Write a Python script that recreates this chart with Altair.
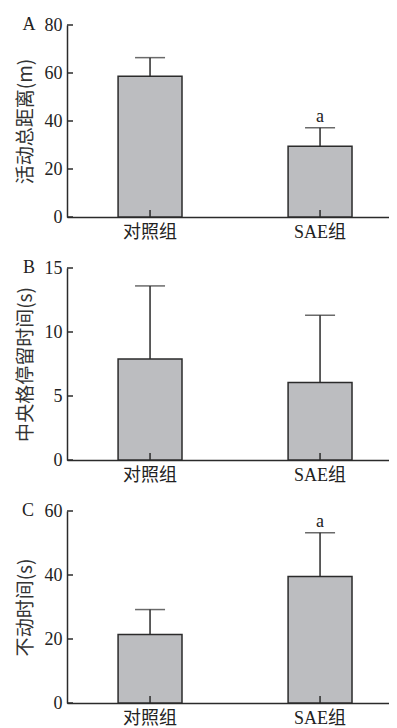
import altair as alt
import pandas as pd

groups = ["对照组", "SAE组"]

# Panel A: 活动总距离(m)
a_mean = [58.6, 29.5]
a_upper = [66.4, 37.2]
a_sig = ["", "a"]
a_ticks = [0, 20, 40, 60, 80]

# Panel B: 中央格停留时间(s)
b_mean = [7.9, 6.05]
b_upper = [13.6, 11.3]
b_sig = ["", ""]
b_ticks = [0, 5, 10, 15]

# Panel C: 不动时间(s)
c_mean = [21.4, 39.5]
c_upper = [29.2, 53.2]
c_sig = ["", "a"]
c_ticks = [0, 20, 40, 60]

W = 322
H = 192
SERIF = "Liberation Serif, Noto Sans CJK SC"
CJK = "Noto Sans CJK SC"
INK = "#2b2b2b"


def panel(mean, upper, sig, ticks, title, letter, letter_dx):
    df = pd.DataFrame({"group": groups, "mean": mean, "upper": upper, "sig": sig})
    xs = alt.X(
        "group:N",
        sort=groups,
        scale=alt.Scale(paddingInner=0.624, paddingOuter=0.259, align=0.58),
        axis=alt.Axis(title=None, labelAngle=0, labelPadding=6,
                      labelFont=SERIF, labelFontSize=18),
    )
    ysc = alt.Scale(domain=[ticks[0], ticks[-1]], nice=False, zero=True)
    ys = alt.Y(
        "mean:Q",
        scale=ysc,
        axis=alt.Axis(values=ticks, labelPadding=5, title=title, titlePadding=9,
                      labelFont="Liberation Serif", labelFontSize=18),
    )
    base = alt.Chart(df).encode(x=xs)
    bars = base.mark_bar(fill="#bcbdc0", stroke=INK, strokeWidth=1.5).encode(y=ys)
    whisk = base.mark_rule(color=INK, strokeWidth=1.5).encode(
        y=alt.Y("mean:Q", scale=ysc), y2="upper:Q"
    )
    cap = base.mark_tick(color=INK, thickness=1.5, size=30, orient="horizontal").encode(
        y=alt.Y("upper:Q", scale=ysc)
    )
    sigt = base.mark_text(font="Liberation Serif", fontSize=18, color="#222", dy=-11,
                          baseline="middle").encode(
        y=alt.Y("upper:Q", scale=ysc), text="sig:N"
    )
    xt = base.mark_rule(color=INK, strokeWidth=1.5).encode(
        y=alt.value(H), y2=alt.value(H - 7)
    )
    tdf = pd.DataFrame({"v": ticks})
    yt = alt.Chart(tdf).mark_rule(color=INK, strokeWidth=1.5).encode(
        y=alt.Y("v:Q", scale=ysc), x=alt.value(0), x2=alt.value(6)
    )
    let = alt.Chart(pd.DataFrame({"t": [letter]})).mark_text(
        font="Liberation Serif", fontSize=18, color="#222", align="center", baseline="middle"
    ).encode(text="t:N", x=alt.value(letter_dx), y=alt.value(0))
    return alt.layer(bars, whisk, cap, sigt, xt, yt, let).properties(width=W, height=H)


pa = panel(a_mean, a_upper, a_sig, a_ticks, "活动总距离(m)", "A", -38)
pb = panel(b_mean, b_upper, b_sig, b_ticks, "中央格停留时间(s)", "B", -38)
pc = panel(c_mean, c_upper, c_sig, c_ticks, "不动时间(s)", "C", -39)

chart = (
    alt.vconcat(pa, pb, pc, spacing=18)
    .properties(padding={"left": 8, "top": 8, "right": 0, "bottom": 0}, background="white")
    .configure(style={"guide-label": {"font": SERIF, "fontSize": 18}})
    .configure_view(stroke=None)
    .configure_axis(
        grid=False, ticks=False,
        labelFont=SERIF, labelFontSize=18, labelColor="#222",
        domainColor=INK, domainWidth=1.5,
        titleFont=CJK, titleFontSize=19, titleFontWeight="normal", titleColor="#333",
    )
)

chart.save("out.html", embed_options={"renderer": "svg", "actions": False})
